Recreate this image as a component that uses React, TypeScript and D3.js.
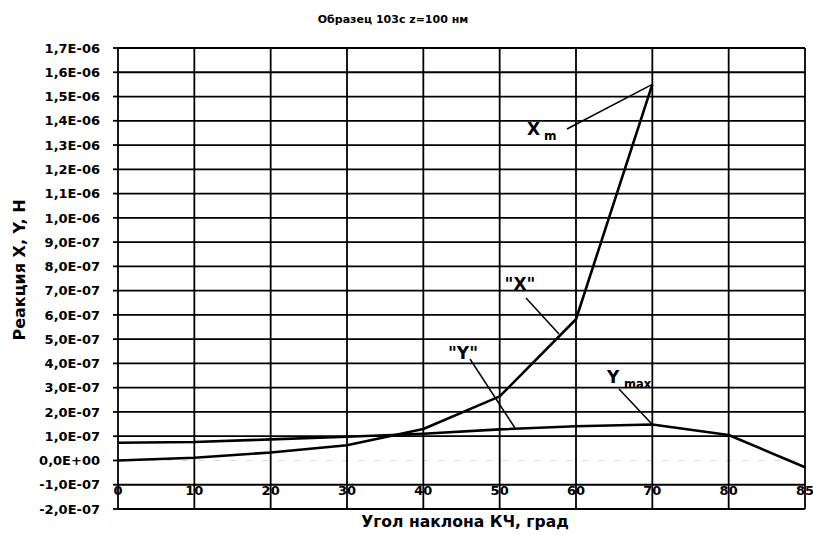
import React from "react";
import * as d3 from "d3";

const categories = ["0", "10", "20", "30", "40", "50", "60", "70", "80", "85"];
const seriesX = [0.0, 0.11e-7, 0.33e-7, 0.63e-7, 1.3e-7, 2.64e-7, 5.82e-7, 15.5e-7];
const seriesY = [0.73e-7, 0.76e-7, 0.87e-7, 0.98e-7, 1.1e-7, 1.28e-7, 1.41e-7, 1.48e-7, 1.05e-7, -0.28e-7];
const yTickValues = [
  -2e-7, -1e-7, 0, 1e-7, 2e-7, 3e-7, 4e-7, 5e-7, 6e-7, 7e-7, 8e-7, 9e-7,
  1.0e-6, 1.1e-6, 1.2e-6, 1.3e-6, 1.4e-6, 1.5e-6, 1.6e-6, 1.7e-6,
];
const title = "Образец 103с z=100 нм";
const xTitle = "Угол наклона КЧ, град";
const yTitle = "Реакция X, Y, H";

const W = 813;
const H = 535;
const left = 118;
const right = 805;
const top = 48;
const bottom = 509;
const FONT = "'DejaVu Sans', sans-serif";

function fmt(v: number): string {
  if (Math.abs(v) < 1e-15) return "0,0E+00";
  const s = d3.format(".1e")(v);
  const [m, e] = s.split("e");
  const ei = parseInt(e, 10);
  const sign = ei < 0 ? "-" : "+";
  const ee = String(Math.abs(ei)).padStart(2, "0");
  return m.replace(".", ",").replace("−", "-") + "E" + sign + ee;
}

export default function App() {
  const x = d3.scalePoint<string>().domain(categories).range([left, right]);
  const y = d3.scaleLinear().domain([-2e-7, 1.7e-6]).range([bottom, top]);

  const line = d3
    .line<number>()
    .x((_, i) => x(categories[i]) as number)
    .y((d) => y(d))
    .curve(d3.curveLinear);

  const px = (c: string) => x(c) as number;

  return (
    <svg
      width={W}
      height={H}
      style={{ position: "absolute", left: 0, top: 0, background: "#fff" }}
      fontFamily={FONT}
    >
      <rect width={W} height={H} fill="#fff" />
      <text x={393} y={23} textAnchor="middle" fontSize={11} fontWeight={700}>
        {title}
      </text>

      {categories.map((c) => (
        <text
          key={"xl" + c}
          x={px(c)}
          y={y(-1e-7) + 10}
          textAnchor="middle"
          fontSize={13}
          fontWeight={700}
        >
          {c}
        </text>
      ))}

      {yTickValues.map((v) => (
        <g key={"h" + v}>
          {Math.abs(v) < 1e-15 ? (
            <line
              x1={left}
              x2={right}
              y1={y(v)}
              y2={y(v)}
              stroke="#d8d8d8"
              strokeWidth={1}
              strokeDasharray="6 10"
            />
          ) : (
            <line x1={left} x2={right} y1={y(v)} y2={y(v)} stroke="#000" strokeWidth={1.8} />
          )}
          <line x1={left - 5} x2={left} y1={y(v)} y2={y(v)} stroke="#000" strokeWidth={1.8} />
          <text
            x={100}
            y={y(v)}
            dy="0.36em"
            textAnchor="end"
            fontSize={13}
            fontWeight={700}
          >
            {fmt(v)}
          </text>
        </g>
      ))}

      {categories.map((c) => (
        <line
          key={"v" + c}
          x1={px(c)}
          x2={px(c)}
          y1={top}
          y2={bottom}
          stroke="#000"
          strokeWidth={1.8}
        />
      ))}

      <path d={line(seriesX) || ""} fill="none" stroke="#000" strokeWidth={2.6} strokeLinejoin="round" />
      <path d={line(seriesY) || ""} fill="none" stroke="#000" strokeWidth={2.6} strokeLinejoin="round" />

      <g fontWeight={700} fill="#000">
        <text x={527} y={135} fontSize={17}>X</text>
        <text x={544} y={140} fontSize={12}>m</text>
        <line x1={567} y1={129} x2={px("70")} y2={y(seriesX[7])} stroke="#000" strokeWidth={1.5} />

        <text x={520} y={290} fontSize={17} textAnchor="middle">"X"</text>
        <line x1={526} y1={298} x2={559} y2={334} stroke="#000" strokeWidth={1.5} />

        <text x={463} y={359} fontSize={17} textAnchor="middle">"Y"</text>
        <line x1={470} y1={359} x2={515} y2={428} stroke="#000" strokeWidth={1.5} />

        <text x={607} y={383} fontSize={17}>Y</text>
        <text x={624} y={388} fontSize={11.5}>max</text>
        <line x1={619} y1={389} x2={px("70")} y2={y(seriesY[7])} stroke="#000" strokeWidth={1.5} />
      </g>

      <text x={465} y={527} textAnchor="middle" fontSize={15.6} fontWeight={700}>
        {xTitle}
      </text>
      <text
        transform={`translate(25,270) rotate(-90)`}
        textAnchor="middle"
        fontSize={16}
        fontWeight={700}
      >
        {yTitle}
      </text>
    </svg>
  );
}
